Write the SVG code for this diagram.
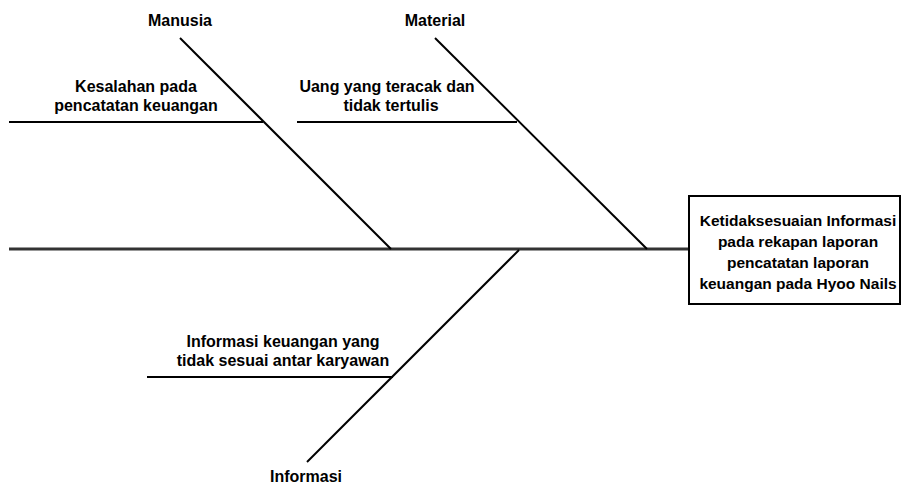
<svg xmlns="http://www.w3.org/2000/svg" width="901" height="485" viewBox="0 0 901 485">
<style>
text{font-family:"Liberation Sans",Arial,sans-serif;font-weight:bold;font-size:16px;fill:#000;text-anchor:middle}
.bx{font-size:15.5px}
.ln{stroke:#000;stroke-width:2;fill:none}
.sp{stroke:#333;stroke-width:3;fill:none}
</style>
<rect width="901" height="485" fill="#fff"/>
<g id="connectors">
<line class="sp" x1="9" y1="249" x2="689" y2="249"/>
<line class="ln" x1="180" y1="38" x2="391" y2="249"/>
<line class="ln" x1="435" y1="38" x2="647" y2="249"/>
<line class="ln" x1="519" y1="250" x2="307" y2="462"/>
<line class="ln" x1="9" y1="122" x2="263" y2="122"/>
<line class="ln" x1="297" y1="122" x2="517" y2="122"/>
<line class="ln" x1="147" y1="377" x2="393" y2="377"/>
</g>
<g id="effect">
<rect x="689" y="196" width="211" height="108" fill="#fff" stroke="#000" stroke-width="2"/>
<text class="bx" x="798" y="226">Ketidaksesuaian Informasi</text>
<text class="bx" x="798" y="247">pada rekapan laporan</text>
<text class="bx" x="798" y="268">pencatatan laporan</text>
<text class="bx" x="798" y="289">keuangan pada Hyoo Nails</text>
</g>
<g id="manusia"><text x="180" y="26">Manusia</text></g>
<g id="material"><text x="435" y="26">Material</text></g>
<g id="informasi"><text x="306" y="482">Informasi</text></g>
<g id="cause1"><text x="136" y="92">Kesalahan pada</text><text x="136" y="111">pencatatan keuangan</text></g>
<g id="cause2"><text x="387" y="92">Uang yang teracak dan</text><text x="391" y="111">tidak tertulis</text></g>
<g id="cause3"><text x="283" y="347">Informasi keuangan yang</text><text x="283" y="366">tidak sesuai antar karyawan</text></g>
</svg>
